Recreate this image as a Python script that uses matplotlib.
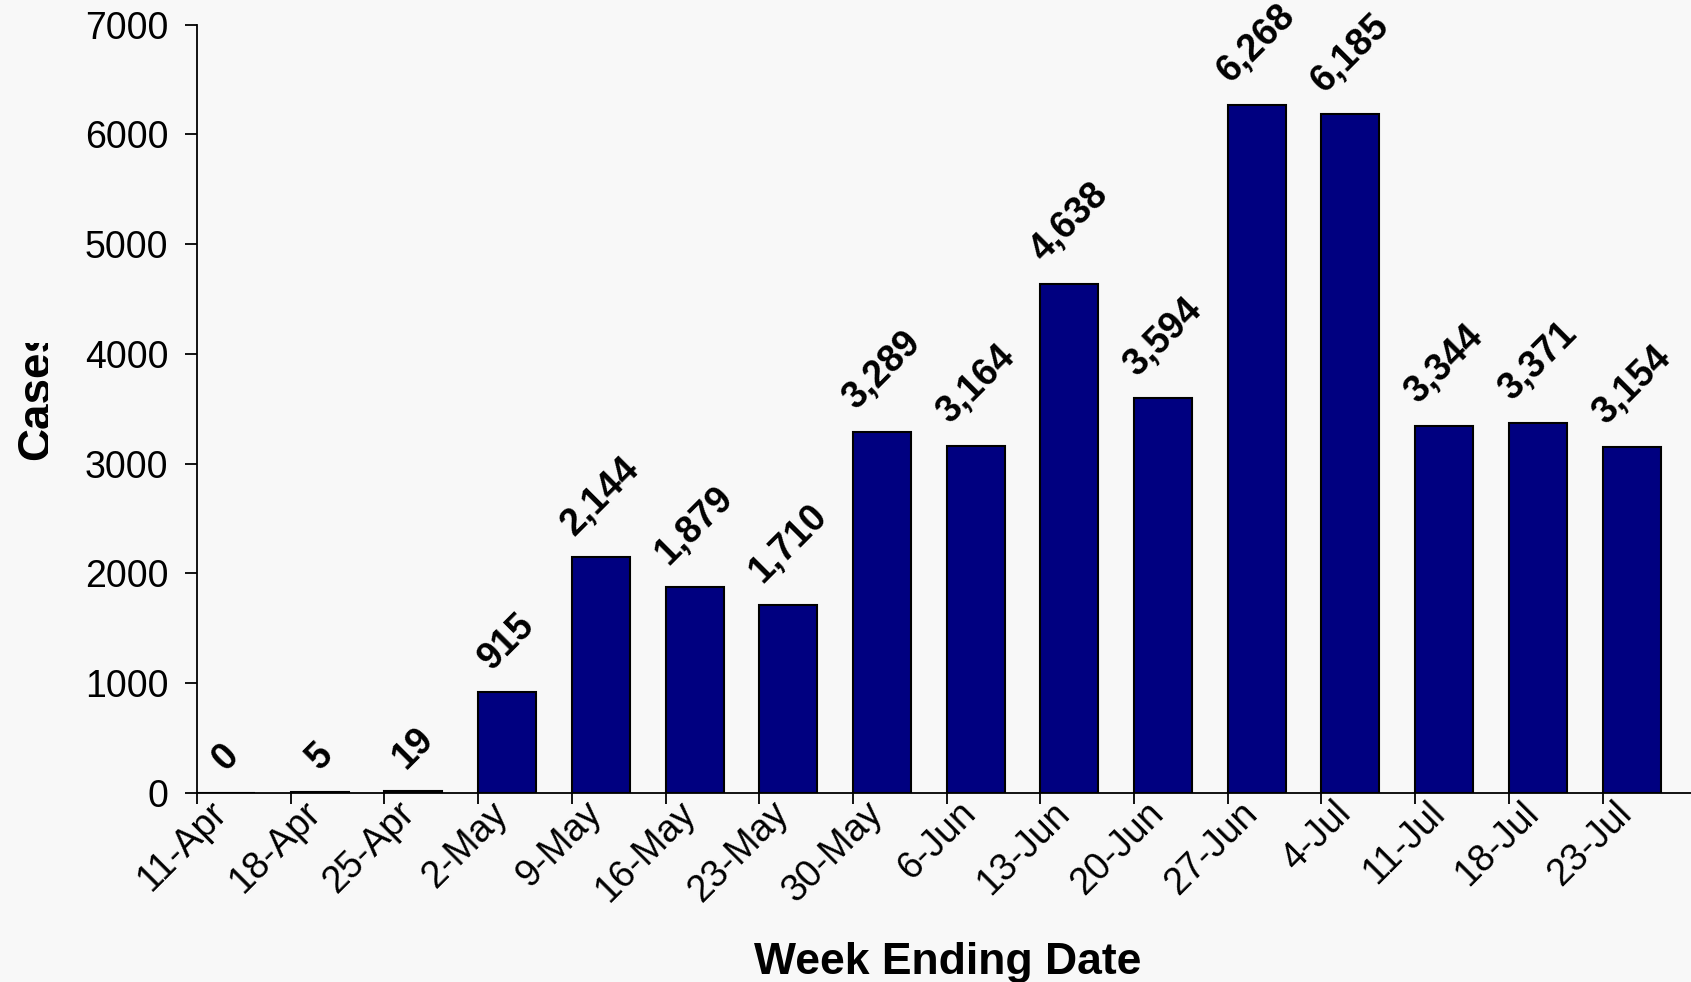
import matplotlib
matplotlib.use("Agg")
import matplotlib.pyplot as plt
from matplotlib.transforms import Bbox

# --- Data ---
weeks = ["11-Apr", "18-Apr", "25-Apr", "2-May", "9-May", "16-May", "23-May",
         "30-May", "6-Jun", "13-Jun", "20-Jun", "27-Jun", "4-Jul", "11-Jul",
         "18-Jul", "23-Jul"]
cases = [0, 5, 19, 915, 2144, 1879, 1710, 3289, 3164, 4638, 3594, 6268,
         6185, 3344, 3371, 3154]
y_ticks = [0, 1000, 2000, 3000, 4000, 5000, 6000, 7000]

plt.rcParams["font.family"] = ["Liberation Sans", "DejaVu Sans"]

W, H, DPI = 1691, 982, 100
BG = "#f8f8f8"
BAR_W = 0.62

fig = plt.figure(figsize=(W / DPI, H / DPI), dpi=DPI, facecolor=BG)
ax = fig.add_axes([197 / W, 1 - 792.6 / H, 1 - 197 / W, (792.6 - 24.8) / H])
ax.set_facecolor(BG)

positions = list(range(len(weeks)))
bars = ax.bar(positions, cases, width=BAR_W, align="edge",
              color="#000080", edgecolor="black", linewidth=1.5, zorder=2)

# value labels above bars
for bar, val in zip(bars, cases):
    ax.annotate(f"{val:,}",
                (bar.get_x() + bar.get_width() / 2, bar.get_height()),
                xytext=(0, 11), textcoords="offset points",
                ha="center", va="bottom", rotation=45,
                fontsize=27, fontweight="bold")

ax.set_xlim(0, (W - 197) / 93.7)
ax.set_ylim(0, 7000)
ax.set_yticks(y_ticks)
ax.tick_params(axis="y", labelsize=27, length=8.5, width=1.3, pad=12,
               direction="out")

# ticks on category edges, labels centred under the bars
ax.set_xticks(positions)
ax.set_xticklabels([])
ax.tick_params(axis="x", which="major", length=8, width=1.3, direction="out")
ax.set_xticks([p + BAR_W / 2 - 0.19 for p in positions], minor=True)
ax.set_xticklabels(weeks, minor=True)
ax.tick_params(axis="x", which="minor", length=0, labelsize=27, pad=2)
plt.setp(ax.get_xticklabels(minor=True), rotation=45, ha="right", va="top",
         rotation_mode="anchor")

for side in ["top", "right"]:
    ax.spines[side].set_visible(False)
for side in ["left", "bottom"]:
    ax.spines[side].set_linewidth(1.3)

fig.text(948 / W, 8 / H, "Week Ending Date", ha="center", va="baseline",
         fontsize=32, fontweight="bold")

# y label is clipped in the original
ylab = fig.text(15 / W, 1 - 460 / H, "Cases", rotation=90, ha="left",
                va="bottom", fontsize=33, fontweight="bold")
ylab.set_clip_box(Bbox([[0, 0], [48, H - 343]]))
ylab.set_clip_on(True)

fig.savefig("out.png", dpi=DPI, facecolor=BG)
